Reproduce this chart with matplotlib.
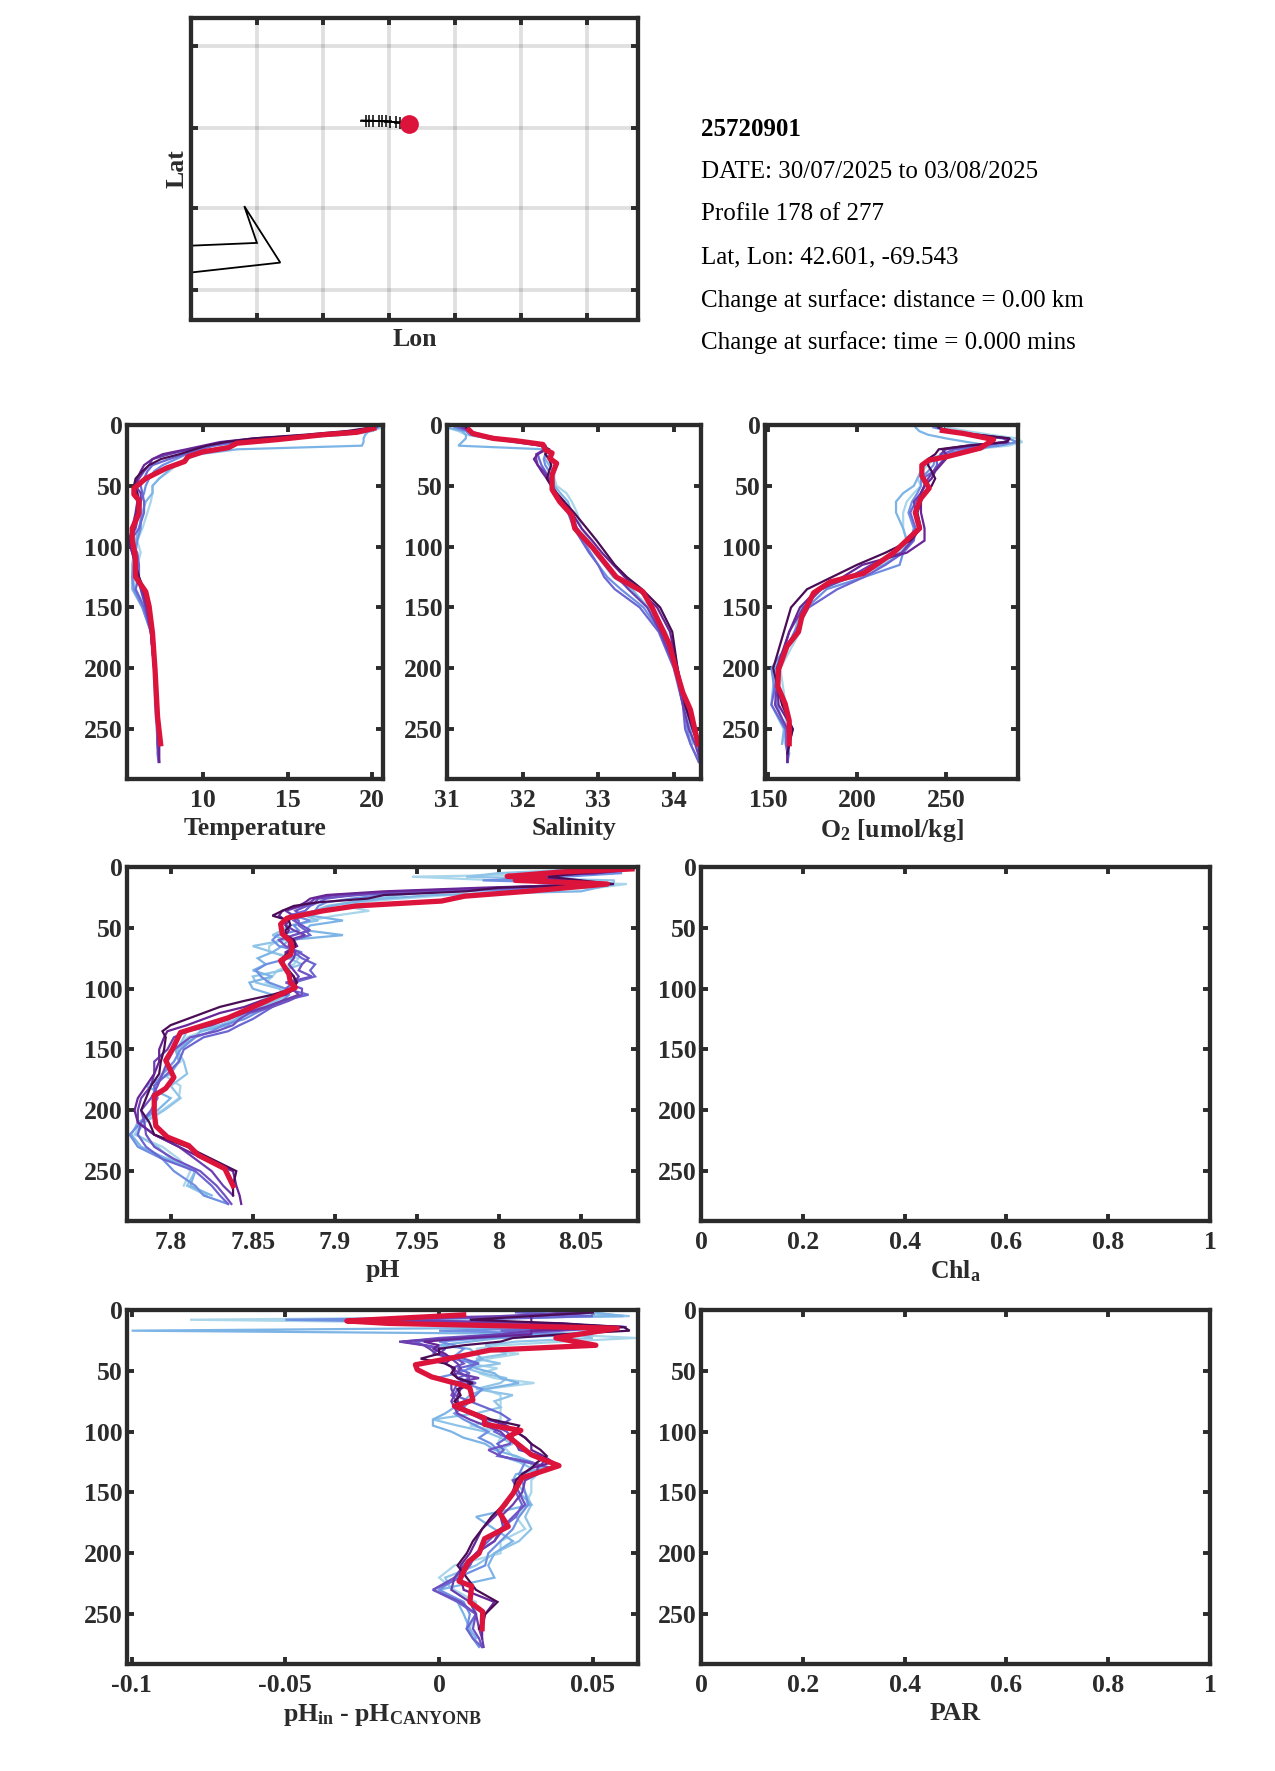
import numpy as np
import matplotlib
matplotlib.use("Agg")
from matplotlib import pyplot as plt

plt.rcParams['font.family'] = ['Liberation Serif', 'DejaVu Serif']
plt.rcParams['font.weight'] = 'bold'
plt.rcParams['mathtext.fontset'] = 'custom'
plt.rcParams['mathtext.bf'] = 'Liberation Serif:bold'
plt.rcParams['mathtext.rm'] = 'Liberation Serif:bold'
plt.rcParams['mathtext.default'] = 'bf'

# === Header text ===
float_id = "25720901"
info_lines = ["DATE: 30/07/2025 to 03/08/2025",
              "Profile 178 of 277",
              "Lat, Lon: 42.601, -69.543",
              "Change at surface: distance = 0.00 km",
              "Change at surface: time = 0.000 mins"]

# === Map ===
lon_ticks = [-70.7, -70.2, -69.7, -69.2, -68.7, -68.2]
lat_ticks = [41.578, 42.08, 42.576, 43.08]
coast_lon = [-71.2, -70.7, -70.796, -70.523, -71.2]
coast_lat = [41.851, 41.868, 42.094, 41.747, 41.686]
track_lon = [-69.907, -69.874, -69.849, -69.816, -69.776, -69.755, -69.723, -69.692, -69.647, -69.614]
track_lat = [42.621, 42.62, 42.62, 42.619, 42.617, 42.616, 42.615, 42.613, 42.611, 42.605]
now_lon = -69.543
now_lat = 42.601

# === Depth levels for the earlier profiles ===
ctd_depth = [2, 5, 8, 11, 14, 17, 20, 24, 28, 33, 38, 44, 50, 56, 63, 72, 85, 95, 105, 115, 125, 135, 150, 170, 200, 230, 250, 262, 270, 277]
ph_depth = [2, 5, 8, 11, 14, 17, 20, 23, 26, 29, 32, 36, 40, 44, 48, 52, 56, 60, 65, 70, 75, 80, 85, 90, 95, 100, 105, 110, 115, 120, 125, 130, 135, 140, 150, 160, 170, 180, 190, 200, 210, 220, 230, 240, 250, 262, 270, 277]

# === Temperature ===
temp_a = [20.6, 20.0, 18.5, 15.0, 12.5, 11.5, 10.5, 9.6, 9.0, 8.4, 8.0, 7.4, 7.0, 7.0, 6.9, 6.7, 6.4, 6.1, 6.3, 6.1, 5.9, 6.0, 6.6, 6.9, 7.1, 7.2, 7.3, 7.35]
temp_b = [20.4, 19.8, 19.6, 19.5, 19.5, 19.4, 12.0, 9.8, 9.0, 8.2, 7.9, 7.4, 7.0, 7.0, 6.6, 6.4, 6.2, 6.0, 5.9, 5.8, 5.8, 5.8, 6.4, 6.9, 7.1, 7.2, 7.3, 7.3]
temp_c = [20.3, 19.9, 18.3, 14.5, 12.2, 10.6, 9.8, 9.0, 8.4, 7.6, 7.1, 6.8, 6.6, 6.5, 6.3, 6.3, 6.3, 6.1, 6.0, 5.9, 5.8, 5.9, 6.4, 6.9, 7.1, 7.15, 7.25, 7.3, 7.35]
temp_d = [20.3, 19.5, 17.5, 13.8, 11.8, 10.6, 9.8, 8.9, 8.0, 7.0, 6.7, 6.5, 6.3, 6.4, 6.5, 6.5, 6.2, 5.7, 6.1, 6.2, 6.2, 6.0, 6.5, 6.9, 7.1, 7.2, 7.3, 7.3, 7.3, 7.35]
temp_e = [20.2, 19.0, 17.0, 13.5, 11.5, 10.2, 9.2, 8.0, 7.0, 6.8, 6.5, 6.2, 6.0, 6.3, 6.3, 6.2, 6.0, 5.6, 5.8, 6.0, 6.1, 6.3, 6.6, 6.9, 7.1, 7.2, 7.3, 7.3, 7.35, 7.4]
temp_f = [20.1, 18.8, 16.5, 13.0, 11.0, 10.0, 9.0, 7.6, 7.0, 6.5, 6.3, 6.1, 6.0, 6.1, 6.1, 6.0, 5.8, 5.6, 5.8, 6.0, 6.2, 6.4, 6.7, 6.9, 7.1, 7.25, 7.35, 7.4, 7.4, 7.4]
temp_g = [20.0, 18.5, 16.0, 13.0, 11.3, 10.2, 9.5, 8.6, 7.5, 6.8, 6.4, 6.0, 5.9, 6.1, 6.2, 6.1, 5.9, 5.7, 5.9, 6.0, 6.2, 6.5, 6.8, 7.0, 7.15, 7.25, 7.35, 7.4]
temp_now_z = [2.7, 6, 8, 12, 15, 18.6, 22, 26, 30, 35.6, 44, 52, 57, 62, 72.5, 85, 94.5, 108, 125, 137, 149, 171, 201, 240, 262]
temp_now = [20.1, 19.1, 17.1, 14.4, 12.0, 11.5, 10.0, 9.1, 8.9, 7.8, 6.6, 5.9, 5.9, 6.2, 6.2, 5.8, 5.8, 5.98, 6.0, 6.6, 6.8, 7.0, 7.15, 7.3, 7.48]

# === Salinity ===
sal_a = [31.0, 31.15, 31.25, 31.55, 31.95, 32.3, 32.35, 32.32, 32.4, 32.42, 32.42, 32.42, 32.45, 32.58, 32.65, 32.72, 32.78, 32.88, 33.0, 33.12, 33.25, 33.42, 33.68, 33.9, 34.02, 34.15, 34.22, 34.28]
sal_b = [31.0, 31.2, 31.25, 31.25, 31.2, 31.15, 32.3, 32.3, 32.3, 32.35, 32.4, 32.4, 32.42, 32.5, 32.6, 32.65, 32.72, 32.85, 32.95, 33.08, 33.2, 33.45, 33.65, 33.85, 34.02, 34.15, 34.22, 34.25]
sal_c = [31.1, 31.25, 31.3, 31.55, 31.9, 32.25, 32.3, 32.3, 32.28, 32.3, 32.35, 32.38, 32.4, 32.45, 32.52, 32.62, 32.72, 32.8, 32.9, 33.0, 33.12, 33.3, 33.6, 33.82, 34.02, 34.12, 34.18, 34.22, 34.28, 34.33]
sal_d = [31.15, 31.3, 31.35, 31.6, 31.9, 32.25, 32.28, 32.2, 32.22, 32.25, 32.3, 32.35, 32.4, 32.42, 32.5, 32.6, 32.68, 32.78, 32.88, 33.0, 33.08, 33.22, 33.55, 33.8, 34.0, 34.12, 34.15, 34.22, 34.28, 34.33]
sal_e = [31.2, 31.3, 31.4, 31.65, 31.95, 32.3, 32.3, 32.18, 32.18, 32.2, 32.28, 32.35, 32.38, 32.42, 32.52, 32.62, 32.72, 32.85, 32.98, 33.12, 33.25, 33.4, 33.65, 33.82, 34.02, 34.12, 34.2, 34.28, 34.32, 34.35]
sal_f = [31.25, 31.3, 31.45, 31.7, 32.0, 32.3, 32.32, 32.2, 32.15, 32.2, 32.25, 32.32, 32.38, 32.45, 32.55, 32.65, 32.78, 32.92, 33.05, 33.2, 33.35, 33.52, 33.78, 33.95, 34.05, 34.15, 34.25, 34.32, 34.34, 34.35]
sal_g = [31.25, 31.3, 31.4, 31.65, 31.95, 32.25, 32.35, 32.3, 32.35, 32.38, 32.35, 32.32, 32.38, 32.45, 32.55, 32.68, 32.85, 32.98, 33.1, 33.22, 33.38, 33.58, 33.82, 33.98, 34.05, 34.15, 34.25, 34.32]
sal_now_z = [4, 7, 11, 13, 16, 20.5, 23, 27.5, 31.5, 41, 53, 63, 74, 85, 101, 125, 137, 151, 180, 201, 220, 234, 262]
sal_now = [31.29, 31.34, 31.61, 31.92, 32.27, 32.3, 32.39, 32.36, 32.45, 32.39, 32.39, 32.49, 32.65, 32.69, 32.93, 33.24, 33.59, 33.72, 33.94, 34.03, 34.12, 34.22, 34.32]

# === Oxygen ===
oxy_a = [250, 262, 275, 290, 293, 285, 265, 248, 243, 240, 236, 234, 236, 232, 228, 226, 226, 228, 224, 214, 196, 178, 170, 168, 157, 160, 160, 158]
oxy_b = [233, 235, 240, 250, 262, 275, 270, 250, 240, 238, 236, 234, 232, 226, 222, 222, 226, 228, 226, 215, 197, 180, 169, 165, 154, 152, 159, 158]
oxy_c = [243, 252, 265, 285, 290, 280, 262, 248, 244, 243, 240, 236, 236, 234, 231, 229, 232, 230, 226, 224, 204, 183, 172, 166, 152, 155, 160, 161, 162, 161]
oxy_d = [245, 252, 265, 282, 285, 272, 255, 248, 245, 245, 243, 237, 238, 236, 233, 230, 233, 232, 226, 216, 204, 189, 173, 165, 156, 152, 160, 160, 161, 161]
oxy_e = [246, 252, 268, 284, 285, 265, 250, 247, 249, 246, 243, 240, 238, 236, 232, 233, 235, 231, 225, 208, 196, 180, 170, 162, 156, 154, 161, 162, 161, 161]
oxy_f = [246, 250, 265, 284, 284, 262, 248, 250, 250, 247, 244, 242, 238, 236, 236, 236, 238, 238, 228, 203, 192, 178, 168, 162, 155, 156, 164, 162, 161, 161]
oxy_g = [246, 250, 268, 286, 284, 262, 246, 244, 240, 240, 242, 244, 242, 238, 236, 234, 236, 230, 216, 200, 186, 172, 163, 159, 153, 158, 164, 162, 161]
oxy_now_z = [4.5, 7, 12, 19, 26, 29, 33, 42, 52, 61, 72, 85, 92, 105, 122, 129, 138, 158, 170, 182, 201, 215, 229, 243, 262]
oxy_now = [248, 260, 276.8, 269.3, 250.6, 240.3, 236.5, 236.5, 240.6, 235.6, 232.8, 235.2, 230, 220.6, 203.7, 185, 175.7, 169, 167.2, 160.7, 156, 155.6, 159.7, 162, 162]

# === pH ===
ph_a = [8.035, 8.07, 7.947, 8.0, 8.078, 8.06, 8.0, 7.97, 7.94, 7.915, 7.905, 7.921, 7.9, 7.885, 7.878, 7.885, 7.875, 7.866, 7.86, 7.86, 7.878, 7.875, 7.865, 7.862, 7.858, 7.868, 7.872, 7.865, 7.858, 7.85, 7.84, 7.83, 7.82, 7.81, 7.804, 7.806, 7.795, 7.806, 7.805, 7.795, 7.782, 7.778, 7.795, 7.805, 7.812, 7.808]
ph_h = [8.05, 8.0, 7.98, 8.07, 8.07, 8.02, 7.96, 7.94, 7.925, 7.91, 7.895, 7.888, 7.882, 7.89, 7.872, 7.868, 7.862, 7.87, 7.85, 7.862, 7.872, 7.88, 7.868, 7.85, 7.852, 7.866, 7.87, 7.864, 7.855, 7.848, 7.84, 7.83, 7.81, 7.808, 7.804, 7.808, 7.81, 7.8, 7.806, 7.796, 7.784, 7.779, 7.792, 7.8, 7.815, 7.81, 7.822]
ph_b = [8.06, 8.07, 8.02, 8.0, 8.07, 8.06, 8.05, 7.96, 7.93, 7.91, 7.898, 7.89, 7.885, 7.905, 7.885, 7.882, 7.905, 7.872, 7.868, 7.862, 7.853, 7.858, 7.85, 7.862, 7.848, 7.85, 7.862, 7.855, 7.85, 7.845, 7.84, 7.835, 7.818, 7.815, 7.803, 7.805, 7.8, 7.785, 7.8, 7.792, 7.78, 7.776, 7.782, 7.798, 7.815, 7.812, 7.825]
ph_c = [8.06, 8.075, 8.04, 7.99, 8.07, 8.05, 7.97, 7.93, 7.91, 7.895, 7.89, 7.888, 7.875, 7.885, 7.875, 7.878, 7.865, 7.862, 7.866, 7.88, 7.872, 7.858, 7.852, 7.855, 7.86, 7.87, 7.872, 7.868, 7.86, 7.852, 7.845, 7.832, 7.825, 7.815, 7.806, 7.802, 7.795, 7.79, 7.79, 7.79, 7.782, 7.775, 7.78, 7.795, 7.802, 7.815, 7.82, 7.835]
ph_d = [8.06, 8.05, 8.015, 8.03, 8.06, 8.02, 7.95, 7.91, 7.895, 7.89, 7.885, 7.882, 7.872, 7.878, 7.878, 7.882, 7.885, 7.875, 7.872, 7.875, 7.88, 7.888, 7.885, 7.888, 7.875, 7.87, 7.884, 7.868, 7.862, 7.856, 7.85, 7.842, 7.835, 7.82, 7.808, 7.805, 7.798, 7.79, 7.792, 7.788, 7.782, 7.78, 7.785, 7.795, 7.815, 7.825, 7.83, 7.835]
ph_i = [8.07, 8.05, 8.03, 8.02, 8.06, 8.01, 7.95, 7.915, 7.89, 7.888, 7.883, 7.876, 7.88, 7.875, 7.88, 7.885, 7.875, 7.866, 7.87, 7.878, 7.884, 7.88, 7.878, 7.886, 7.87, 7.88, 7.88, 7.872, 7.862, 7.848, 7.842, 7.838, 7.828, 7.812, 7.802, 7.798, 7.795, 7.792, 7.788, 7.782, 7.784, 7.785, 7.79, 7.802, 7.818, 7.828, 7.833, 7.837]
ph_e = [8.075, 8.06, 8.02, 8.05, 8.05, 8.0, 7.94, 7.9, 7.888, 7.885, 7.88, 7.87, 7.875, 7.872, 7.87, 7.875, 7.882, 7.872, 7.872, 7.876, 7.875, 7.872, 7.875, 7.878, 7.875, 7.874, 7.878, 7.868, 7.858, 7.845, 7.835, 7.825, 7.81, 7.802, 7.798, 7.79, 7.79, 7.788, 7.782, 7.78, 7.78, 7.79, 7.805, 7.815, 7.825, 7.832, 7.838]
ph_f = [8.082, 8.06, 8.01, 8.04, 8.065, 7.99, 7.93, 7.895, 7.885, 7.882, 7.878, 7.868, 7.866, 7.87, 7.87, 7.872, 7.87, 7.875, 7.877, 7.87, 7.87, 7.868, 7.87, 7.875, 7.876, 7.876, 7.87, 7.855, 7.845, 7.83, 7.82, 7.81, 7.798, 7.796, 7.793, 7.793, 7.79, 7.785, 7.78, 7.778, 7.78, 7.79, 7.805, 7.82, 7.838, 7.84, 7.842, 7.843]
ph_g = [8.08, 8.05, 8.03, 8.05, 8.07, 8.0, 7.98, 7.93, 7.92, 7.89, 7.875, 7.868, 7.862, 7.872, 7.873, 7.87, 7.87, 7.875, 7.876, 7.872, 7.868, 7.868, 7.872, 7.875, 7.877, 7.874, 7.862, 7.845, 7.83, 7.82, 7.81, 7.8, 7.795, 7.797, 7.796, 7.794, 7.793, 7.788, 7.785, 7.782, 7.787, 7.79, 7.81, 7.825, 7.84, 7.838, 7.838]
ph_now_z = [1.6, 4, 7.7, 9, 11, 14, 20, 24, 28, 32, 36, 42, 47, 55, 61, 66, 72, 77, 88, 95, 99, 111, 124, 136, 150, 159, 173, 182, 188, 202, 213, 222, 229, 237, 248, 262]
ph_now = [8.081, 8.039, 8.005, 8.028, 8.01, 8.066, 8.017, 7.979, 7.965, 7.913, 7.893, 7.871, 7.867, 7.868, 7.873, 7.874, 7.873, 7.867, 7.872, 7.873, 7.876, 7.857, 7.835, 7.806, 7.801, 7.797, 7.802, 7.797, 7.79, 7.79, 7.791, 7.798, 7.811, 7.817, 7.833, 7.838]

# === pH difference ===
dph_a = [0.05, 0.06, -0.081, 0.02, 0.06, 0.05, 0.04, 0.064, 0.04, 0.02, 0.012, 0.026, 0.016, 0.01, 0.019, 0.013, 0.018, 0.031, 0.015, 0.02, 0.02, 0.02, 0.02, 0.02, 0.01, 0.02, 0.02, 0.019, 0.022, 0.024, 0.03, 0.03, 0.032, 0.03, 0.03, 0.028, 0.025, 0.028, 0.02, 0.02, 0.005, 0.0, 0.005, 0.012, 0.012, 0.01]
dph_h = [0.045, 0.062, -0.02, 0.01, 0.05, 0.03, 0.045, 0.05, 0.025, 0.015, 0.018, 0.022, 0.012, 0.02, 0.009, 0.014, 0.022, 0.02, 0.012, 0.024, 0.018, 0.02, 0.012, -0.002, 0.006, 0.015, 0.02, 0.024, 0.019, 0.02, 0.026, 0.03, 0.028, 0.024, 0.028, 0.03, 0.028, 0.03, 0.026, 0.018, 0.012, 0.002, 0.004, 0.01, 0.012, 0.009, 0.013]
dph_b = [0.05, 0.06, -0.02, 0.03, 0.055, -0.1, 0.05, 0.02, 0.01, 0.0, 0.01, 0.012, 0.014, 0.01, 0.012, 0.018, 0.02, 0.026, 0.015, 0.01, 0.008, 0.005, 0.002, -0.002, -0.002, 0.004, 0.008, 0.015, 0.018, 0.025, 0.03, 0.034, 0.025, 0.024, 0.026, 0.03, 0.012, 0.018, 0.024, 0.018, 0.016, 0.018, 0.0, 0.006, 0.008, 0.01, 0.012]
dph_c = [0.03, 0.05, -0.05, 0.02, 0.058, 0.0, 0.045, 0.015, 0.0, 0.005, 0.008, 0.006, 0.004, 0.012, 0.01, 0.006, -0.001, 0.008, 0.014, 0.012, 0.01, 0.008, 0.005, 0.008, 0.012, 0.016, 0.013, 0.017, 0.019, 0.02, 0.028, 0.027, 0.026, 0.027, 0.028, 0.029, 0.026, 0.024, 0.02, 0.016, 0.015, 0.006, 0.0, 0.008, 0.01, 0.009, 0.011, 0.013]
dph_d = [0.025, 0.05, 0.01, 0.02, 0.05, 0.02, 0.03, 0.01, -0.008, -0.005, 0.0, -0.002, 0.008, 0.013, 0.006, 0.01, 0.006, 0.012, 0.006, 0.005, 0.01, 0.015, 0.02, 0.023, 0.02, 0.018, 0.022, 0.019, 0.021, 0.019, 0.03, 0.036, 0.03, 0.026, 0.025, 0.027, 0.025, 0.02, 0.016, 0.012, 0.01, 0.007, -0.002, 0.006, 0.012, 0.009, 0.011, 0.014]
dph_i = [0.04, 0.03, -0.015, 0.035, 0.06, 0.04, 0.02, 0.0, -0.012, -0.004, 0.002, 0.0, 0.006, 0.008, 0.004, 0.007, 0.01, 0.006, 0.005, 0.004, 0.006, 0.008, 0.01, 0.014, 0.018, 0.022, 0.024, 0.023, 0.016, 0.02, 0.028, 0.037, 0.03, 0.024, 0.026, 0.028, 0.024, 0.02, 0.018, 0.012, 0.01, 0.005, -0.002, 0.007, 0.012, 0.011, 0.013, 0.014]
dph_e = [0.045, 0.02, -0.03, 0.04, 0.055, 0.03, 0.02, 0.005, -0.013, -0.005, -0.003, -0.001, 0.004, 0.006, 0.007, 0.006, 0.013, 0.004, 0.004, 0.005, 0.004, 0.005, 0.006, 0.01, 0.015, 0.02, 0.022, 0.025, 0.026, 0.033, 0.034, 0.032, 0.032, 0.028, 0.027, 0.024, 0.02, 0.021, 0.018, 0.012, 0.008, 0.005, 0.004, 0.01, 0.012, 0.013, 0.014, 0.0145]
dph_f = [0.05, 0.03, 0.03, 0.03, 0.061, 0.03, 0.03, 0.01, -0.005, 0.0, -0.002, 0.002, 0.004, 0.002, 0.005, 0.005, 0.006, 0.01, 0.007, 0.006, 0.006, 0.006, 0.01, 0.016, 0.022, 0.025, 0.028, 0.03, 0.03, 0.034, 0.037, 0.03, 0.027, 0.026, 0.024, 0.022, 0.018, 0.014, 0.012, 0.01, 0.007, 0.007, 0.008, 0.018, 0.015, 0.014, 0.014]
dph_g = [0.05, 0.03, 0.01, 0.04, 0.06, 0.062, 0.04, 0.024, 0.02, 0.008, 0.0, 0.0, -0.006, 0.002, 0.005, 0.004, 0.006, 0.011, 0.006, 0.007, 0.005, 0.007, 0.012, 0.017, 0.026, 0.025, 0.028, 0.03, 0.033, 0.035, 0.032, 0.03, 0.027, 0.025, 0.024, 0.021, 0.017, 0.014, 0.011, 0.009, 0.006, 0.009, 0.012, 0.019, 0.015, 0.013]
dph_now_z = [4, 9, 11, 15, 23, 29, 33, 40, 45, 49, 55, 62, 64, 74, 79, 89, 94, 99, 104, 119, 128, 138, 151, 166, 178, 188, 200, 207, 223, 227, 240, 248, 262]
dph_now = [0.008, -0.03, -0.0165, 0.058, 0.038, 0.051, 0.0165, 0.003, -0.0077, -0.0071, -0.0024, 0.008, 0.01, 0.011, 0.005, 0.0148, 0.0148, 0.0266, 0.0225, 0.03, 0.039, 0.027, 0.024, 0.0195, 0.0225, 0.0148, 0.013, 0.0095, 0.0065, 0.0106, 0.01, 0.0142, 0.014]

# === Ticks ===
depth_ticks = [0, 50, 100, 150, 200, 250]
temp_ticks = [10, 15, 20]
sal_ticks = [31, 32, 33, 34]
oxy_ticks = [150, 200, 250]
ph_ticks = [7.8, 7.85, 7.9, 7.95, 8, 8.05]
ph_labels = ['7.8', '7.85', '7.9', '7.95', '8', '8.05']
dph_ticks = [-0.1, -0.05, 0, 0.05]
dph_labels = ['-0.1', '-0.05', '0', '0.05']
empty_ticks = [0, 0.2, 0.4, 0.6, 0.8, 1]
empty_labels = ['0', '0.2', '0.4', '0.6', '0.8', '1']

# === Cores, do mais antigo para o mais recente ===
colors = ['#a9d6ea', '#7db4e6', '#6f90e2', '#6b66d2', '#6c3fb0', '#682596', '#4a0d55']
colors_long = ['#a9d6ea', '#8fc4e8', '#7db4e6', '#6f90e2', '#6b66d2', '#6f52c4', '#6c3fb0', '#682596', '#4a0d55']
now_color = '#dc143c'
dark = '#2b2b2b'
label_size = 18.5

W, H = 1275, 1771
fig = plt.figure(figsize=(W / 100, H / 100), dpi=100)


def make_axes(x0, x1, y0, y1):
    return fig.add_axes([x0 / W, 1 - y1 / H, (x1 - x0) / W, (y1 - y0) / H])


def style(ax):
    for s in ax.spines.values():
        s.set_linewidth(3.1)
        s.set_color(dark)
        s.set_zorder(5)
    ax.tick_params(direction='in', length=5, width=2.8, color=dark, labelcolor=dark,
                   labelsize=label_size, top=True, right=True, pad=3)


def profile_panel(box, profiles, depth, now, now_z, xlim, ticks, labels, xlabel, palette=colors):
    ax = make_axes(*box)
    for p, c in zip(profiles, palette):
        ax.plot(p, depth[:len(p)], color=c, lw=1.6, solid_joinstyle='miter', clip_on=False)
    if now is not None:
        ax.plot(now, now_z, color=now_color, lw=3.8, solid_joinstyle='round', zorder=4)
    ax.set_xlim(*xlim)
    ax.set_ylim(291, 0)
    ax.set_xticks(ticks)
    ax.set_xticklabels(labels)
    ax.set_yticks(depth_ticks)
    style(ax)
    ax.tick_params(axis='x', pad=7)
    ax.set_xlabel(xlabel, fontsize=label_size, fontweight='bold', color=dark, labelpad=3.5)
    return ax


# === Mapa ===
ax = make_axes(191, 638, 18, 319.5)
ax.set_xlim(-71.2, -67.81)
ax.set_ylim(41.397, 43.251)
ax.set_xticks(lon_ticks)
ax.set_yticks(lat_ticks)
ax.set_xticklabels([])
ax.set_yticklabels([])
ax.grid(True, color='black', alpha=0.12, lw=2.8)
ax.plot(coast_lon, coast_lat, color='black', lw=1.3, solid_joinstyle='miter')
ax.plot(track_lon, track_lat, color='black', lw=1.3)
ax.plot(track_lon[1:], track_lat[1:], ls='none', color='black', marker='+', ms=9, mew=1.1)
ax.plot(now_lon, now_lat, 'o', color=now_color, ms=13.5, mec='none', zorder=4)
style(ax)
ax.set_xlabel('Lon', fontsize=label_size, fontweight='bold', color=dark, labelpad=3.4)
ax.set_ylabel('Lat', fontsize=label_size, fontweight='bold', color=dark, labelpad=-1)

# === Perfis ===
profile_panel((127, 383, 425, 779), [temp_a, temp_b, temp_c, temp_d, temp_e, temp_f, temp_g], ctd_depth,
              temp_now, temp_now_z, (5.49, 20.65), temp_ticks, [str(t) for t in temp_ticks], 'Temperature')
profile_panel((447, 701, 425, 779), [sal_a, sal_b, sal_c, sal_d, sal_e, sal_f, sal_g], ctd_depth,
              sal_now, sal_now_z, (31.0, 34.36), sal_ticks, [str(t) for t in sal_ticks], 'Salinity')
profile_panel((765, 1018, 425, 779), [oxy_a, oxy_b, oxy_c, oxy_d, oxy_e, oxy_f, oxy_g], ctd_depth,
              oxy_now, oxy_now_z, (148.4, 290.5), oxy_ticks, [str(t) for t in oxy_ticks], r'O$_{2}$ [umol/kg]')
profile_panel((127, 638, 867, 1221), [ph_a, ph_h, ph_b, ph_c, ph_d, ph_i, ph_e, ph_f, ph_g], ph_depth,
              ph_now, ph_now_z, (7.7734, 8.0847), ph_ticks, ph_labels, 'pH', colors_long)
profile_panel((127, 638, 1310, 1664), [dph_a, dph_h, dph_b, dph_c, dph_d, dph_i, dph_e, dph_f, dph_g], ph_depth,
              dph_now, dph_now_z, (-0.1015, 0.0647), dph_ticks, dph_labels, r'pH$_{in}$ - pH$_{CANYONB}$', colors_long)
profile_panel((701, 1210, 867, 1221), [], ph_depth, None, None, (0, 1), empty_ticks, empty_labels, r'Chl$_{a}$')
profile_panel((701, 1210, 1310, 1664), [], ph_depth, None, None, (0, 1), empty_ticks, empty_labels, 'PAR')

# === Texto ===
info_y = [172, 214.5, 257, 300.5, 342.5]
fig.text(701 / W, 1 - 129.5 / H, float_id, fontsize=18, fontweight='bold', color='black', va='center')
for line, y in zip(info_lines, info_y):
    fig.text(701 / W, 1 - y / H, line, fontsize=18, fontweight='normal', color='black', va='center')

fig.savefig('out.png', dpi=100)
